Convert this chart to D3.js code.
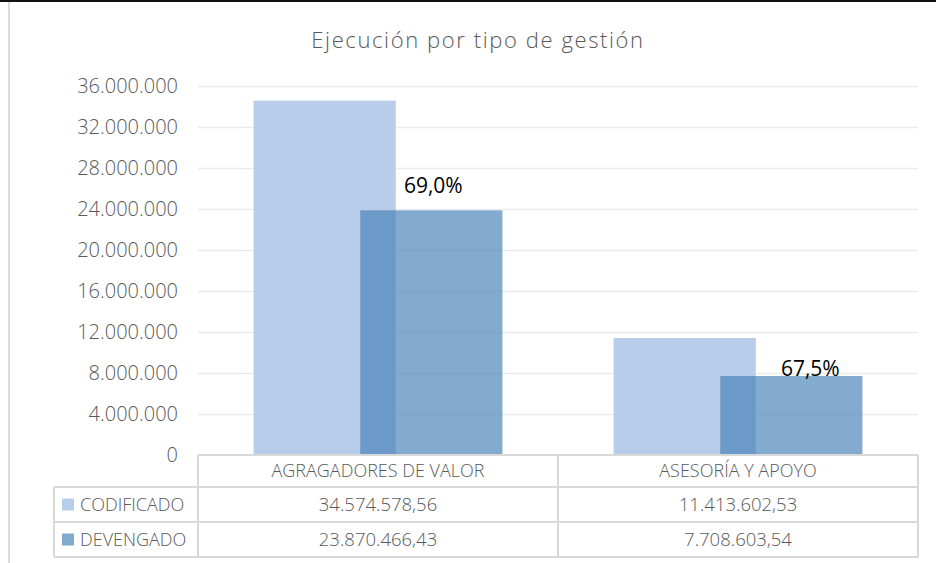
<!DOCTYPE html>
<html>
<head>
<meta charset="utf-8">
<script src="https://cdn.jsdelivr.net/npm/d3@7"></script>
<style>
  body { margin: 0; background: #fff; }
  svg { display: block; font-family: "Open Sans", sans-serif; }
</style>
</head>
<body>
<div id="chart"></div>
<script>
// chart data
var categories = ["AGRAGADORES DE VALOR", "ASESORÍA Y APOYO"];
var seriesNames = ["CODIFICADO", "DEVENGADO"];
var codificado = [34574578.56, 11413602.53];
var devengado = [23870466.43, 7708603.54];
var yTicks = [0, 4000000, 8000000, 12000000, 16000000, 20000000, 24000000, 28000000, 32000000, 36000000];

var width = 936, height = 563;
var colors = {CODIFICADO: "#b7cde9", DEVENGADO: "#4680b8"};
var textGray = "#595959";

// spanish number format (dot thousands, comma decimals)
var es = d3.formatLocale({decimal: ",", thousands: ".", grouping: [3], currency: ["", ""]});
var fmtAxis = es.format(",.0f");
var fmtValue = es.format(",.2f");
var fmtPct = es.format(".1%");

var plot = {left: 198, right: 918, top: 86, bottom: 455};
var table = {legendLeft: 54, rowH: [32, 35, 35]};

var svg = d3.select("#chart").append("svg").attr("width", width).attr("height", height);

// frame bits from the original screenshot
svg.append("line").attr("x1", 0).attr("x2", width).attr("y1", 1).attr("y2", 1)
    .attr("stroke", "#111").attr("stroke-width", 2);
svg.append("line").attr("x1", 9).attr("x2", 9).attr("y1", 2).attr("y2", height)
    .attr("stroke", "#dcdcdc").attr("stroke-width", 2);

// title
svg.append("text")
    .attr("x", 478).attr("y", 48)
    .attr("text-anchor", "middle")
    .attr("fill", textGray)
    .attr("font-size", "22px")
    .attr("font-weight", 300)
    .attr("letter-spacing", "1.6px")
    .text("Ejecución por tipo de gestión");

var x0 = d3.scaleBand().domain(categories).range([plot.left, plot.right]);
var y = d3.scaleLinear().domain([0, 36000000]).range([plot.bottom, plot.top]);

// gridlines + y axis labels
var yAxis = svg.append("g")
    .attr("transform", "translate(" + plot.left + ",0)")
    .call(d3.axisLeft(y).tickValues(yTicks).tickFormat(fmtAxis)
        .tickSizeInner(-(plot.right - plot.left)).tickSizeOuter(0).tickPadding(20));
yAxis.select(".domain").remove();
yAxis.selectAll(".tick line").attr("stroke", "#ebebeb").attr("stroke-width", 1.5)
    .attr("x2", function (d) { return d === 0 ? 0 : plot.right - plot.left; });
yAxis.selectAll(".tick text")
    .attr("fill", textGray).attr("font-size", "20px")
    .attr("font-family", "Open Sans, sans-serif").attr("font-weight", 300);

// bars: width 39.5% of band, overlap 25%
var barW = x0.bandwidth() * 0.395;
var step = barW * 0.75;
function barX(cat, i) {
    var center = x0(cat) + x0.bandwidth() / 2;
    return center - (barW + step) / 2 + i * step;
}

var rows = [codificado, devengado];
seriesNames.forEach(function (name, si) {
    svg.append("g").attr("class", "serie")
        .selectAll("rect")
        .data(categories)
        .enter().append("rect")
        .attr("x", function (d) { return barX(d, si); })
        .attr("y", function (d, i) { return y(rows[si][i]); })
        .attr("width", barW)
        .attr("height", function (d, i) { return y(0) - y(rows[si][i]); })
        .attr("fill", colors[name])
        .attr("fill-opacity", si === 0 ? 1 : 0.67);
});

// percentage labels (devengado / codificado)
var labelDx = [2, 19], labelDy = [-17, 0];
svg.append("g").selectAll("text")
    .data(categories)
    .enter().append("text")
    .attr("x", function (d, i) { return barX(d, 1) + barW / 2 + labelDx[i]; })
    .attr("y", function (d, i) { return y(devengado[i]) + labelDy[i]; })
    .attr("text-anchor", "middle")
    .attr("fill", "#000")
    .attr("font-size", "21px")
    .text(function (d, i) { return fmtPct(devengado[i] / codificado[i]); });

// data table
var tb = svg.append("g").attr("class", "datatable");
var tTop = plot.bottom;
var rowY = [tTop, tTop + table.rowH[0], tTop + table.rowH[0] + table.rowH[1]];
var tBottom = rowY[2] + table.rowH[2];
var border = "#d9d9d9";

function hline(x1, x2, yy) {
    tb.append("line").attr("x1", x1).attr("x2", x2).attr("y1", yy).attr("y2", yy)
        .attr("stroke", border).attr("stroke-width", 2);
}
function vline(xx, y1, y2) {
    tb.append("line").attr("x1", xx).attr("x2", xx).attr("y1", y1).attr("y2", y2)
        .attr("stroke", border).attr("stroke-width", 2);
}
hline(plot.left, plot.right, rowY[0]);
hline(table.legendLeft, plot.right, rowY[1]);
hline(table.legendLeft, plot.right, rowY[2]);
hline(table.legendLeft, plot.right, tBottom);
vline(table.legendLeft, rowY[1], tBottom);
vline(plot.left, rowY[0], tBottom);
categories.forEach(function (c) { vline(x0(c) + x0.bandwidth(), rowY[0], tBottom); });

// header row
tb.selectAll(".hdr").data(categories).enter().append("text")
    .attr("class", "hdr")
    .attr("x", function (d) { return x0(d) + x0.bandwidth() / 2; })
    .attr("y", rowY[0] + table.rowH[0] / 2)
    .attr("dy", "0.35em")
    .attr("text-anchor", "middle")
    .attr("fill", textGray).attr("font-size", "18px").attr("font-weight", 300)
    .text(function (d) { return d; });

// value rows with legend keys
seriesNames.forEach(function (name, si) {
    var cy = rowY[si + 1] + table.rowH[si + 1] / 2;
    tb.append("rect")
        .attr("x", 62).attr("y", cy - 6).attr("width", 12).attr("height", 12)
        .attr("fill", colors[name]).attr("fill-opacity", si === 0 ? 1 : 0.67);
    tb.append("text")
        .attr("x", 80).attr("y", cy).attr("dy", "0.35em")
        .attr("fill", textGray).attr("font-size", "18px").attr("font-weight", 300)
        .text(name);
    tb.selectAll(".val" + si).data(categories).enter().append("text")
        .attr("class", "val" + si)
        .attr("x", function (d) { return x0(d) + x0.bandwidth() / 2; })
        .attr("y", cy).attr("dy", "0.35em")
        .attr("text-anchor", "middle")
        .attr("fill", textGray).attr("font-size", "18.5px").attr("font-weight", 300)
        .text(function (d, i) { return fmtValue(rows[si][i]); });
});
</script>
</body>
</html>
